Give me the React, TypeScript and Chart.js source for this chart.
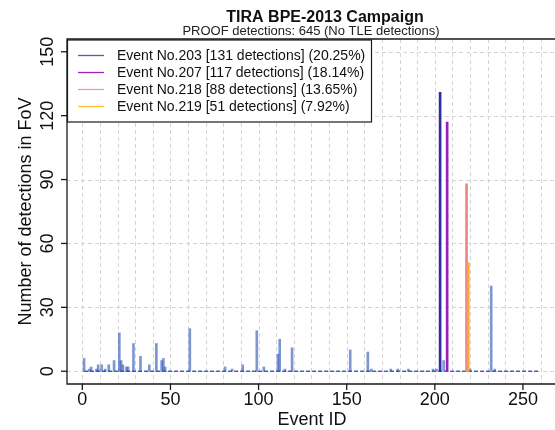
import { useEffect, useRef } from "react";
import { Chart, registerables } from "chart.js";

Chart.register(...registerables);

// Detections per event (events with at least one detection)
const EVENT_IDS = [1, 4, 5, 8, 9, 11, 13, 15, 18, 21, 22, 23, 25, 26, 29, 33, 38, 42, 45, 46, 47, 61, 81, 85, 91, 99, 103, 111, 112, 115, 119, 152, 162, 164, 175, 179, 185, 199, 201, 205, 220, 232, 234];
const EVENT_COUNTS = [6, 1, 2, 1, 3, 3, 1, 3, 5, 18, 5, 3, 2, 2, 13, 7, 3, 13, 5, 6, 2, 20, 2, 1, 3, 19, 2, 8, 15, 1, 11, 10, 9, 1, 1, 1, 1, 1, 1, 5, 1, 40, 1];

// The four most productive events, listed in the legend
const TOP_IDS = [203, 207, 218, 219];
const TOP_COUNTS = [131, 117, 88, 51];
const TOP_SHARES = ["20.25", "18.14", "13.65", "7.92"];
const TOP_COLORS = ["#2e2e9c", "#9a1fb8", "#f08585", "#f6ac2a"];
const TOP_LEGEND_COLORS = ["#5a5ab0", "#a020c0", "#f09a9a", "#ffc030"];

// Range of event IDs in the campaign (baseline of the spike plot)
const EVENT_RANGE = [1, 259];

const X_TICKS = [0, 50, 100, 150, 200, 250];
const Y_TICKS = [0, 30, 60, 90, 120, 150];
const X_GRID_STEP = 10;

const TITLE = "TIRA BPE-2013 Campaign";
const SUBTITLE = "PROOF detections: 645 (No TLE detections)";
const X_LABEL = "Event ID";
const Y_LABEL = "Number of detections in FoV";

const FONT = '"Liberation Sans", Arial, Helvetica, sans-serif';
const BAR_COLOR = "rgba(40, 80, 180, 0.6)";

const decorations = {
  id: "decorations",
  beforeDatasetsDraw(chart: any) {
    const { ctx, chartArea: a, scales } = chart;
    const x = scales.x;
    const y = scales.y;
    ctx.save();
    ctx.strokeStyle = "#d4d4d4";
    ctx.lineWidth = 1;
    ctx.setLineDash([4, 3]);
    for (let v = 0; v <= x.max; v += X_GRID_STEP) {
      const px = Math.round(x.getPixelForValue(v)) + 0.5;
      ctx.beginPath();
      ctx.moveTo(px, a.top);
      ctx.lineTo(px, a.bottom);
      ctx.stroke();
    }
    for (const v of Y_TICKS) {
      const py = Math.round(y.getPixelForValue(v)) + 0.5;
      ctx.beginPath();
      ctx.moveTo(a.left, py);
      ctx.lineTo(a.right, py);
      ctx.stroke();
    }
    ctx.restore();
  },
  afterDatasetsDraw(chart: any) {
    const { ctx, chartArea: a, scales } = chart;
    const x = scales.x;
    const y = scales.y;
    ctx.save();
    ctx.setLineDash([]);

    // frame
    ctx.strokeStyle = "#1a1a1a";
    ctx.lineWidth = 1.3;
    ctx.beginPath();
    ctx.moveTo(chart.width + 2, a.top);
    ctx.lineTo(a.left, a.top);
    ctx.lineTo(a.left, a.bottom);
    ctx.lineTo(chart.width + 2, a.bottom);
    ctx.stroke();

    // x ticks + labels
    ctx.fillStyle = "#111";
    ctx.font = `18px ${FONT}`;
    ctx.textAlign = "center";
    ctx.textBaseline = "alphabetic";
    for (const v of X_TICKS) {
      const px = x.getPixelForValue(v);
      ctx.beginPath();
      ctx.moveTo(px, a.bottom);
      ctx.lineTo(px, a.bottom + 6);
      ctx.stroke();
      ctx.fillText(String(v), px, a.bottom + 21);
    }

    // y ticks + rotated labels
    for (const v of Y_TICKS) {
      const py = y.getPixelForValue(v);
      ctx.beginPath();
      ctx.moveTo(a.left, py);
      ctx.lineTo(a.left - 6, py);
      ctx.stroke();
      ctx.save();
      ctx.translate(a.left - 14, py);
      ctx.rotate(-Math.PI / 2);
      ctx.fillText(String(v), 0, 0);
      ctx.restore();
    }

    // axis titles
    ctx.font = `18px ${FONT}`;
    ctx.fillText(X_LABEL, 312, 425);
    ctx.save();
    ctx.translate(31, (a.top + a.bottom) / 2);
    ctx.rotate(-Math.PI / 2);
    ctx.fillText(Y_LABEL, 0, 0);
    ctx.restore();

    // titles
    ctx.font = `bold 16px ${FONT}`;
    ctx.fillText(TITLE, 325, 22);
    ctx.font = `13px ${FONT}`;
    ctx.fillStyle = "#222";
    ctx.fillText(SUBTITLE, 311, 35);

    // legend
    const lx = a.left;
    const ly = a.top + 1;
    const lw = 304;
    const lh = 82;
    ctx.fillStyle = "#fff";
    ctx.fillRect(lx, ly, lw, lh);
    ctx.strokeStyle = "#1a1a1a";
    ctx.lineWidth = 1.2;
    ctx.strokeRect(lx + 0.5, ly, lw, lh);
    ctx.font = `14px ${FONT}`;
    ctx.textAlign = "left";
    ctx.textBaseline = "middle";
    TOP_IDS.forEach((id, i) => {
      const ry = ly + 15.5 + i * 17;
      ctx.strokeStyle = TOP_LEGEND_COLORS[i];
      ctx.lineWidth = 1.3;
      ctx.beginPath();
      ctx.moveTo(lx + 11, ry);
      ctx.lineTo(lx + 37, ry);
      ctx.stroke();
      ctx.fillStyle = "#111";
      ctx.fillText(
        `Event No.${id} [${TOP_COUNTS[i]} detections] (${TOP_SHARES[i]}%)`,
        lx + 50,
        ry + 1
      );
    });
    ctx.restore();
  },
};

export default function App() {
  const canvasRef = useRef<HTMLCanvasElement | null>(null);

  useEffect(() => {
    const canvas = canvasRef.current;
    if (!canvas) return;

    const datasets: any[] = [
      {
        type: "line",
        label: "baseline",
        data: EVENT_RANGE.map((id) => ({ x: id, y: 0 })),
        borderColor: "rgba(40, 70, 170, 0.85)",
        borderWidth: 1.4,
        borderDash: [4, 2],
        pointRadius: 0,
        order: 10,
      },
      {
        type: "bar",
        label: "events",
        data: EVENT_IDS.map((id, i) => ({ x: id, y: EVENT_COUNTS[i] })),
        backgroundColor: BAR_COLOR,
        barThickness: 2,
        grouped: false,
        order: 5,
      },
      ...TOP_IDS.map((id, i) => ({
        type: "bar",
        label: `Event No.${id}`,
        data: [{ x: id, y: TOP_COUNTS[i] }],
        backgroundColor: TOP_COLORS[i],
        barThickness: 2,
        grouped: false,
        order: 4 - i,
      })),
    ];

    const chart = new Chart(canvas, {
      type: "bar",
      data: { datasets },
      options: {
        animation: false,
        responsive: false,
        devicePixelRatio: 1,
        layout: { padding: { left: 67, top: 39, right: 0, bottom: 46 } },
        plugins: {
          legend: { display: false },
          tooltip: { enabled: false },
          title: { display: false },
        },
        scales: {
          x: {
            type: "linear",
            display: false,
            offset: false,
            min: -8.7,
            max: 268.2,
          },
          y: {
            type: "linear",
            display: false,
            min: -6,
            max: 156,
          },
        },
      },
      plugins: [decorations],
    });

    return () => chart.destroy();
  }, []);

  return (
    <div style={{ position: "fixed", left: 0, top: 0, width: 555, height: 430, background: "#fff", overflow: "hidden" }}>
      <canvas ref={canvasRef} width={555} height={430} />
    </div>
  );
}
